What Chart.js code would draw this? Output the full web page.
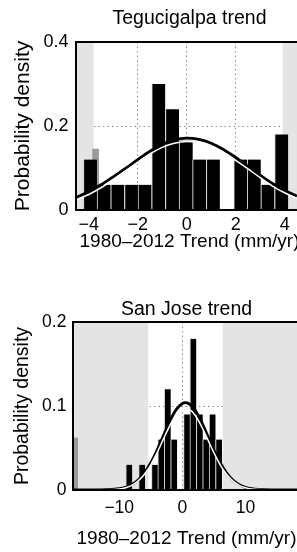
<!DOCTYPE html>
<html>
<head>
<meta charset="utf-8">
<script src="https://cdn.jsdelivr.net/npm/chart.js@4.4.0/dist/chart.umd.min.js"></script>
<style>
  html, body { margin: 0; padding: 0; background: #fff; overflow: hidden; width: 297px; height: 552px; }
  canvas { position: absolute; left: 0; }
  #teg { top: 0; }
  #sj { top: 276px; }
</style>
</head>
<body>
<canvas id="teg" width="330" height="256"></canvas>
<canvas id="sj" width="330" height="276"></canvas>
<script>
// Tegucigalpa: histogram of trends (mm/yr) and fitted normal curves
const tegBins = [-3.94, -3.38, -2.82, -2.26, -1.71, -1.15, -0.59, -0.03, 0.52, 1.08, 1.64, 2.20, 2.75, 3.31, 3.87];
const tegDensity = [0.12, 0.06, 0.06, 0.06, 0.06, 0.30, 0.24, 0.165, 0.12, 0.12, 0, 0.12, 0.12, 0.06, 0.18];
const tegGrayBins = [-3.72];
const tegGrayDensity = [0.145];
const tegFitX = [-4.5, -4, -3.5, -3, -2.5, -2, -1.5, -1, -0.5, 0, 0.5, 1, 1.5, 2, 2.5, 3, 3.5, 4, 4.5];
const tegFitBlack = [0.030, 0.044, 0.060, 0.079, 0.099, 0.120, 0.140, 0.156, 0.167, 0.171, 0.168, 0.159, 0.144, 0.125, 0.104, 0.083, 0.063, 0.047, 0.033];
const tegFitWhite = [0.024, 0.037, 0.053, 0.072, 0.093, 0.113, 0.133, 0.149, 0.159, 0.163, 0.160, 0.151, 0.137, 0.118, 0.098, 0.077, 0.057, 0.041, 0.027];
const tegXTicks = [-4, -2, 0, 2, 4];
const tegYTicks = [0, 0.2, 0.4];
const tegShade = [[-4.6, -3.8], [3.92, 5]];

// San Jose
const sjBins = [-8.45, -7.43, -6.41, -5.40, -4.38, -3.37, -2.35, -1.33, -0.32, 0.70, 1.71, 2.73, 3.74, 4.76, 5.78];
const sjDensity = [0.03, 0, 0.03, 0, 0.03, 0.06, 0.12, 0.06, 0, 0.09, 0.18, 0.09, 0.06, 0.09, 0.06];
const sjGrayBins = [-16.9];
const sjGrayDensity = [0.062];
const sjFitX = [-17.3, -14, -12, -10, -9, -8, -7, -6, -5, -4, -3, -2, -1, 0, 0.5, 1, 2, 3, 4, 5, 6, 7, 8, 9, 10, 11, 12, 14, 18.6];
const sjFitBlack = [0, 0, 0.0003, 0.0015, 0.0032, 0.0064, 0.0119, 0.0204, 0.0324, 0.0476, 0.0648, 0.0817, 0.0954, 0.1030, 0.1040, 0.1030, 0.0954, 0.0817, 0.0648, 0.0476, 0.0324, 0.0204, 0.0119, 0.0064, 0.0032, 0.0015, 0.0006, 0.0001, 0];
const sjFitWhite = [0, 0, 0.0002, 0.0012, 0.0027, 0.0056, 0.0108, 0.0188, 0.0300, 0.0444, 0.0606, 0.0764, 0.0893, 0.0965, 0.0975, 0.0965, 0.0893, 0.0764, 0.0606, 0.0444, 0.0300, 0.0188, 0.0108, 0.0056, 0.0027, 0.0012, 0.0005, 0.0001, 0];
const sjXTicks = [-10, 0, 10];
const sjYTicks = [0, 0.1, 0.2];
const sjShade = [[-18, -5.4], [6.4, 19]];

const FONT = "'Liberation Sans', Arial, Helvetica, sans-serif";
const pts = (xs, ys) => xs.map((x, i) => ({ x: x, y: ys[i] }));

// grey bands outside the range + black frame round the plot
const panelPlugin = {
    id: 'panel',
    beforeDatasetsDraw(chart, args, opts) {
        const { ctx, chartArea: a, scales: { x } } = chart;
        ctx.save();
        ctx.fillStyle = '#e4e4e4';
        opts.shade.forEach(([lo, hi]) => {
            const l = Math.max(x.getPixelForValue(lo), a.left);
            const r = Math.min(x.getPixelForValue(hi), a.right);
            ctx.fillRect(l, a.top, r - l, a.bottom - a.top);
        });
        ctx.restore();
    },
    afterDatasetsDraw(chart) {
        const { ctx, chartArea: a } = chart;
        ctx.save();
        ctx.strokeStyle = '#000';
        ctx.lineWidth = 2;
        ctx.strokeRect(a.left, a.top, a.right - a.left, a.bottom - a.top);
        ctx.restore();
    }
};

function makePanel(id, p) {
    return new Chart(document.getElementById(id), {
        type: 'bar',
        data: {
            datasets: [
                { type: 'line', data: pts(p.fitX, p.fitWhite), borderColor: '#fff', borderWidth: 1.5,
                  pointRadius: 0, tension: 0.4, cubicInterpolationMode: 'monotone', order: 0 },
                { type: 'line', data: pts(p.fitX, p.fitBlack), borderColor: '#000', borderWidth: 2.8,
                  pointRadius: 0, tension: 0.4, cubicInterpolationMode: 'monotone', order: 1 },
                { data: pts(p.bins, p.density), backgroundColor: '#000', borderColor: '#cfcfcf',
                  borderWidth: { left: 1, right: 0, top: 0, bottom: 0 }, borderSkipped: false,
                  barPercentage: 1, categoryPercentage: 1, grouped: false, order: 2 },
                { data: pts(p.grayBins, p.grayDensity), backgroundColor: '#9a9a9a', xAxisID: 'x2',
                  barThickness: p.grayWidth, grouped: false, order: 3 }
            ]
        },
        options: {
            responsive: false,
            animation: false,
            layout: { padding: { left: 0, right: p.padRight, top: 0, bottom: 0 } },
            plugins: {
                legend: { display: false },
                tooltip: { enabled: false },
                title: {
                    display: true, text: p.title, color: '#000', fullSize: false,
                    font: { family: FONT, size: 19.5, weight: 'normal' },
                    padding: p.titlePad
                },
                panel: { shade: p.shade }
            },
            scales: {
                x: {
                    type: 'linear', min: p.xMin, max: p.xMax, offset: false,
                    afterBuildTicks: s => { s.ticks = p.xTicks.map(v => ({ value: v })); },
                    afterFit: s => { s.height = p.xAxisH; },
                    grid: { color: '#8c8c8c', lineWidth: 1, drawTicks: false, offset: false },
                    border: { display: false, dash: [1.5, 3] },
                    ticks: { color: '#000', padding: p.xTickPad, maxRotation: 0,
                             font: { family: FONT, size: p.tickSize },
                             callback: v => String(v).replace('-', '\u2212') },
                    title: { display: true, text: '1980\u20132012 Trend (mm/yr)', color: '#000',
                             font: { family: FONT, size: 19 }, padding: { top: 0, bottom: p.xTitlePad } }
                },
                x2: { type: 'linear', display: false, min: p.xMin, max: p.xMax, offset: false },
                y: {
                    min: 0, max: p.yMax,
                    afterBuildTicks: s => { s.ticks = p.yTicks.map(v => ({ value: v })); },
                    afterFit: s => { s.width = p.yAxisW; },
                    grid: { color: '#8c8c8c', lineWidth: 1, drawTicks: false },
                    border: { display: false, dash: [1.5, 3] },
                    ticks: { color: '#000', padding: p.yTickPad,
                             font: { family: FONT, size: p.tickSize },
                             callback: v => String(v) },
                    title: { display: true, text: 'Probability density', color: '#000',
                             font: { family: FONT, size: p.yTitleSize }, padding: { top: p.yTitlePad, bottom: 0 } }
                }
            }
        },
        plugins: [panelPlugin]
    });
}

makePanel('teg', {
    title: 'Tegucigalpa trend', bins: tegBins, density: tegDensity,
    grayBins: tegGrayBins, grayDensity: tegGrayDensity, grayWidth: 6,
    fitX: tegFitX, fitBlack: tegFitBlack, fitWhite: tegFitWhite,
    xTicks: tegXTicks, yTicks: tegYTicks, shade: tegShade,
    xMin: -4.52, xMax: 4.75, yMax: 0.4,
    padRight: 27, yAxisW: 76, xAxisH: 46,
    titlePad: { top: 6.8, bottom: 11.8 }, tickSize: 18,
    xTickPad: 4, xTitlePad: 2.5, yTickPad: 7.5, yTitleSize: 21, yTitlePad: 10.4
});

makePanel('sj', {
    title: 'San Jose trend', bins: sjBins, density: sjDensity,
    grayBins: sjGrayBins, grayDensity: sjGrayDensity, grayWidth: 4,
    fitX: sjFitX, fitBlack: sjFitBlack, fitWhite: sjFitWhite,
    xTicks: sjXTicks, yTicks: sjYTicks, shade: sjShade,
    xMin: -17.33, xMax: 18.65, yMax: 0.2,
    padRight: 30, yAxisW: 73, xAxisH: 62,
    titlePad: { top: 22.3, bottom: 0.3 }, tickSize: 17.5,
    xTickPad: 7.5, xTitlePad: 1.6, yTickPad: 6.6, yTitleSize: 19.5, yTitlePad: 11.3
});
</script>
</body>
</html>
